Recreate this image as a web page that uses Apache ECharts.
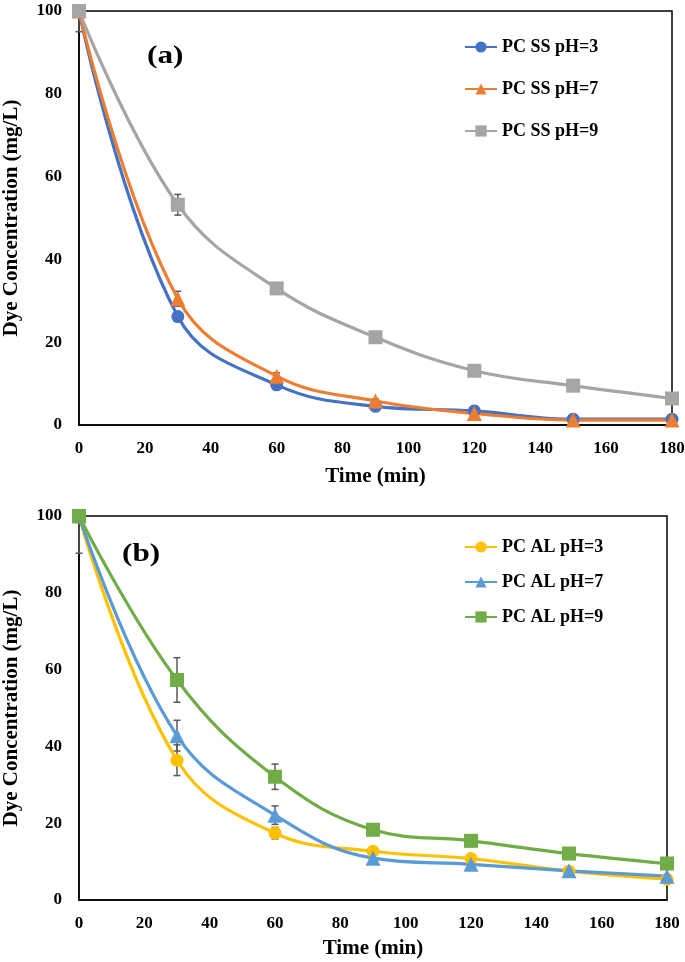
<!DOCTYPE html>
<html>
<head>
<meta charset="utf-8">
<script src="https://cdn.jsdelivr.net/npm/echarts@6/dist/echarts.min.js"></script>
<style>
html,body{margin:0;padding:0;background:#fff;}
#chart{width:685px;height:962px;}
</style>
</head>
<body>
<div id="chart"></div>
<script>
// ---- data ----
const times = [0, 30, 60, 90, 120, 150, 180];
const xTicks = [0, 20, 40, 60, 80, 100, 120, 140, 160, 180];
const yTicks = [0, 20, 40, 60, 80, 100];

const ssNames = ['PC SS pH=3', 'PC SS pH=7', 'PC SS pH=9'];
const ssPH3 = [100, 26.2, 9.7, 4.5, 3.4, 1.4, 1.4];
const ssPH7 = [100, 30.5, 11.8, 5.8, 2.8, 1.2, 1.2];
const ssPH9 = [100, 53.2, 33.0, 21.2, 13.1, 9.5, 6.4];
const ssErr3 = [0, 0.8, 0.6, 0.4, 0.4, 0.3, 0.3];
const ssErr7 = [0, 1.8, 0.8, 0.5, 0.4, 0.3, 0.3];
const ssErr9 = [5, 2.5, 1.0, 0.8, 0.6, 0.5, 0.5];

const alNames = ['PC AL pH=3', 'PC AL pH=7', 'PC AL pH=9'];
const alPH3 = [100, 36.4, 17.4, 12.7, 10.8, 7.5, 5.4];
const alPH7 = [100, 42.8, 22.1, 10.9, 9.3, 7.6, 6.2];
const alPH9 = [100, 57.3, 32.1, 18.3, 15.4, 12.1, 9.5];
const alErr3 = [9.7, 4.0, 1.5, 0.6, 0.5, 0.4, 0.4];
const alErr7 = [1.0, 4.0, 2.4, 0.8, 0.5, 0.4, 0.4];
const alErr9 = [1.0, 5.8, 3.3, 1.5, 0.6, 0.5, 0.5];

// ---- chart ----
const FONT = '"Liberation Serif", "Times New Roman", serif';
const chart = echarts.init(document.getElementById('chart'));

function pairs(vals) { return times.map((t, i) => [t, vals[i]]); }
function errPairs(vals, errs) { return times.map((t, i) => [t, vals[i], errs[i]]); }

function lineSeries(name, vals, color, symbol, size, idx) {
  return {
    name: name, type: 'line', xAxisIndex: idx, yAxisIndex: idx,
    data: pairs(vals), smooth: 0.4, symbol: symbol, symbolSize: size,
    lineStyle: { color: color, width: 3.2 },
    itemStyle: { color: color },
    z: 3
  };
}
function errSeries(vals, errs, idx) {
  return {
    type: 'custom', xAxisIndex: idx, yAxisIndex: idx,
    data: errPairs(vals, errs), z: 2, silent: true,
    renderItem: function (params, api) {
      const x = api.value(0), y = api.value(1), e = api.value(2);
      if (!e) return null;
      const hi = Math.min(y + e, 100), lo = Math.max(y - e, 0);
      const p1 = api.coord([x, hi]), p2 = api.coord([x, lo]);
      const w = 3.5;
      const st = { stroke: '#595959', lineWidth: 1.5 };
      return {
        type: 'group', children: [
          { type: 'line', shape: { x1: p1[0], y1: p1[1], x2: p2[0], y2: p2[1] }, style: st },
          { type: 'line', shape: { x1: p1[0] - w, y1: p1[1], x2: p1[0] + w, y2: p1[1] }, style: st },
          { type: 'line', shape: { x1: p2[0] - w, y1: p2[1], x2: p2[0] + w, y2: p2[1] }, style: st }
        ]
      };
    }
  };
}

function xAxis(idx, gap) {
  return {
    type: 'value', gridIndex: idx, min: xTicks[0], max: xTicks[xTicks.length - 1],
    interval: xTicks[1] - xTicks[0],
    name: 'Time (min)', nameLocation: 'middle', nameGap: gap,
    nameTextStyle: { fontFamily: FONT, fontWeight: 'bold', fontSize: 21, color: '#000' },
    axisLine: { show: true, lineStyle: { color: '#000', width: 1.5 } },
    axisTick: { show: false }, splitLine: { show: false },
    axisLabel: { fontFamily: FONT, fontWeight: 'bold', fontSize: 17, color: '#000', margin: 15 }
  };
}
function yAxis(idx) {
  return {
    type: 'value', gridIndex: idx, min: yTicks[0], max: yTicks[yTicks.length - 1],
    interval: yTicks[1] - yTicks[0],
    name: 'Dye Concentration (mg/L)', nameLocation: 'middle', nameGap: 57,
    nameTextStyle: { fontFamily: FONT, fontWeight: 'bold', fontSize: 21, color: '#000' },
    axisLine: { show: true, lineStyle: { color: '#000', width: 1.5 } },
    axisTick: { show: false }, splitLine: { show: false },
    axisLabel: { fontFamily: FONT, fontWeight: 'bold', fontSize: 17, color: '#000', margin: 17 }
  };
}

const option = {
  backgroundColor: '#fff',
  animation: false,
  grid: [
    { left: 79, top: 11, width: 593, height: 414, show: true, borderColor: '#000', borderWidth: 1.5, backgroundColor: 'transparent', containLabel: false, outerBoundsMode: 'none' },
    { left: 79, top: 516, width: 588, height: 384, show: true, borderColor: '#000', borderWidth: 1.5, backgroundColor: 'transparent', containLabel: false, outerBoundsMode: 'none' }
  ],
  xAxis: [xAxis(0, 41), xAxis(1, 38)],
  yAxis: [yAxis(0), yAxis(1)],
  legend: [
    {
      data: ssNames, orient: 'vertical', left: 464, top: 38, itemGap: 24, padding: 0,
      itemWidth: 32, itemHeight: 14,
      textStyle: { fontFamily: FONT, fontWeight: 'bold', fontSize: 18, color: '#000' }
    },
    {
      data: alNames, orient: 'vertical', left: 464, top: 538, itemGap: 17, padding: 0,
      itemWidth: 32, itemHeight: 14,
      textStyle: { fontFamily: FONT, fontWeight: 'bold', fontSize: 18, color: '#000' }
    }
  ],
  graphic: [
    { type: 'text', left: 147, top: 43, scaleX: 1.2, style: { text: '(a)', font: 'bold 26px ' + FONT, fill: '#000' } },
    { type: 'text', left: 122, top: 541, scaleX: 1.2, style: { text: '(b)', font: 'bold 26px ' + FONT, fill: '#000' } }
  ],
  series: [
    lineSeries(ssNames[0], ssPH3, '#4472C4', 'circle', 13, 0),
    lineSeries(ssNames[1], ssPH7, '#ED7D31', 'triangle', 15, 0),
    lineSeries(ssNames[2], ssPH9, '#A5A5A5', 'rect', 14, 0),
    errSeries(ssPH3, ssErr3, 0),
    errSeries(ssPH7, ssErr7, 0),
    errSeries(ssPH9, ssErr9, 0),
    lineSeries(alNames[0], alPH3, '#FFC000', 'circle', 13, 1),
    lineSeries(alNames[1], alPH7, '#5B9BD5', 'triangle', 15, 1),
    lineSeries(alNames[2], alPH9, '#70AD47', 'rect', 14, 1),
    errSeries(alPH3, alErr3, 1),
    errSeries(alPH7, alErr7, 1),
    errSeries(alPH9, alErr9, 1)
  ]
};
chart.setOption(option);
</script>
</body>
</html>
